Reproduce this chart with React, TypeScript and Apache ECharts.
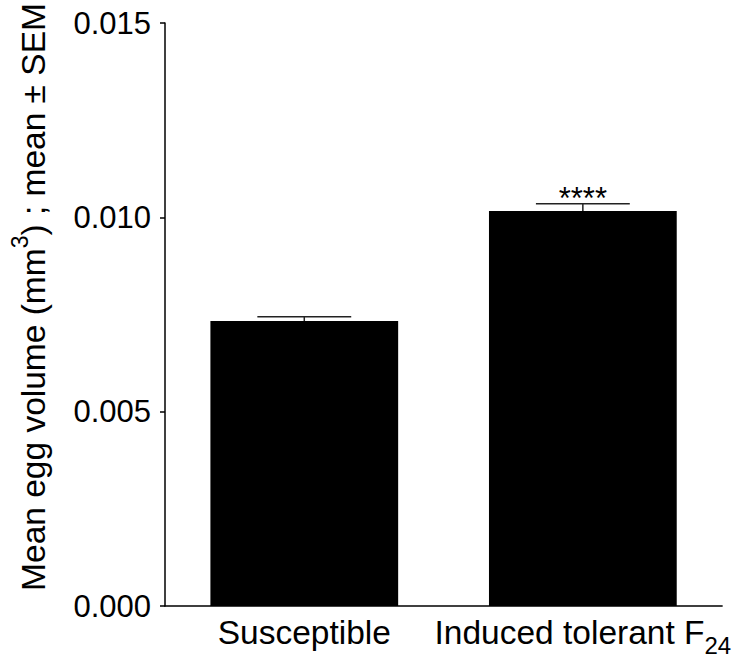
import React, { useEffect, useRef } from "react";
import * as echarts from "echarts";

const categories = ["Susceptible", "Induced tolerant F24"];
const means = [0.00733, 0.01016];
const sems = [0.000113, 0.00019];
const significance = ["", "****"];
const yTicks = { min: 0, max: 0.015, interval: 0.005 };
const yTitle = ["Mean egg volume (mm", "3", ") ; mean ± SEM"];

export default function App() {
  const ref = useRef<HTMLDivElement>(null);
  useEffect(() => {
    if (!ref.current) return;
    document.body.style.margin = "0";
    const chart = echarts.init(ref.current, null, { renderer: "svg" });
    const font = "Arial, 'Liberation Sans', sans-serif";
    chart.setOption({
      animation: false,
      backgroundColor: "#fff",
      grid: { left: 165, right: 11, top: 23, bottom: 51, containLabel: false },
      xAxis: {
        type: "category",
        data: categories,
        axisLine: { lineStyle: { color: "#000", width: 1.5 } },
        axisTick: { alignWithLabel: true, length: 5, lineStyle: { color: "#000", width: 1.5 } },
        axisLabel: {
          margin: 9,
          interval: 0,
          color: "#000",
          fontFamily: font,
          formatter: (v: string) => {
            const m = v.match(/^(.*F)(\d+)$/);
            if (m) return `{a|${m[1]}}{sub|${m[2]}}`;
            return `{a|${v}}`;
          },
          rich: {
            a: { fontSize: 33.5, fontFamily: font, color: "#000", lineHeight: 42, verticalAlign: "top" },
            sub: { fontSize: 24, fontFamily: font, color: "#000", lineHeight: 24, verticalAlign: "bottom" },
          },
        },
      },
      yAxis: {
        type: "value",
        min: yTicks.min,
        max: yTicks.max,
        interval: yTicks.interval,
        splitLine: { show: false },
        axisLine: { show: true, lineStyle: { color: "#000", width: 1.5 } },
        axisTick: { show: true, length: 5, lineStyle: { color: "#000", width: 1.5 } },
        axisLabel: {
          margin: 14,
          color: "#000",
          fontSize: 31,
          fontFamily: font,
          formatter: (v: number) => v.toFixed(3),
        },
      },
      graphic: [
        {
          type: "text",
          x: 29,
          y: 297,
          rotation: Math.PI / 2,
          style: {
            text: `{a|${yTitle[0]}}{sup|${yTitle[1]}}{a|${yTitle[2]}}`,
            textAlign: "center",
            textVerticalAlign: "middle",
            rich: {
              a: { fontSize: 33.5, fontFamily: font, fill: "#000", lineHeight: 42, verticalAlign: "bottom" },
              sup: { fontSize: 23, fontFamily: font, fill: "#000", lineHeight: 22, verticalAlign: "top" },
            },
          },
        },
      ],
      series: [
        {
          type: "bar",
          data: means,
          barWidth: "67.4%",
          itemStyle: { color: "#000" },
          z: 2,
        },
        {
          type: "custom",
          z: 3,
          data: means.map((m, i) => [i, m, sems[i]]),
          renderItem: (params: any, api: any) => {
            const i = api.value(0);
            const m = api.value(1);
            const s = api.value(2);
            const top = api.coord([i, m + s]);
            const base = api.coord([i, m]);
            const band = api.size([1, 0])[0];
            const half = band * 0.674 * 0.25;
            const children: any[] = [
              { type: "line", shape: { x1: top[0], y1: base[1], x2: top[0], y2: top[1] }, style: { stroke: "#222", lineWidth: 1.5 } },
              { type: "line", shape: { x1: top[0] - half, y1: top[1], x2: top[0] + half, y2: top[1] }, style: { stroke: "#222", lineWidth: 1.5 } },
            ];
            const sig = significance[params.dataIndex];
            if (sig) {
              children.push({
                type: "text",
                x: top[0],
                y: top[1] + 10,
                style: { text: sig, fontSize: 31, fontFamily: font, fill: "#000", textAlign: "center", textVerticalAlign: "bottom" },
              });
            }
            return { type: "group", children };
          },
        },
      ],
    });
    return () => chart.dispose();
  }, []);
  return <div ref={ref} style={{ width: 734, height: 657 }} />;
}
